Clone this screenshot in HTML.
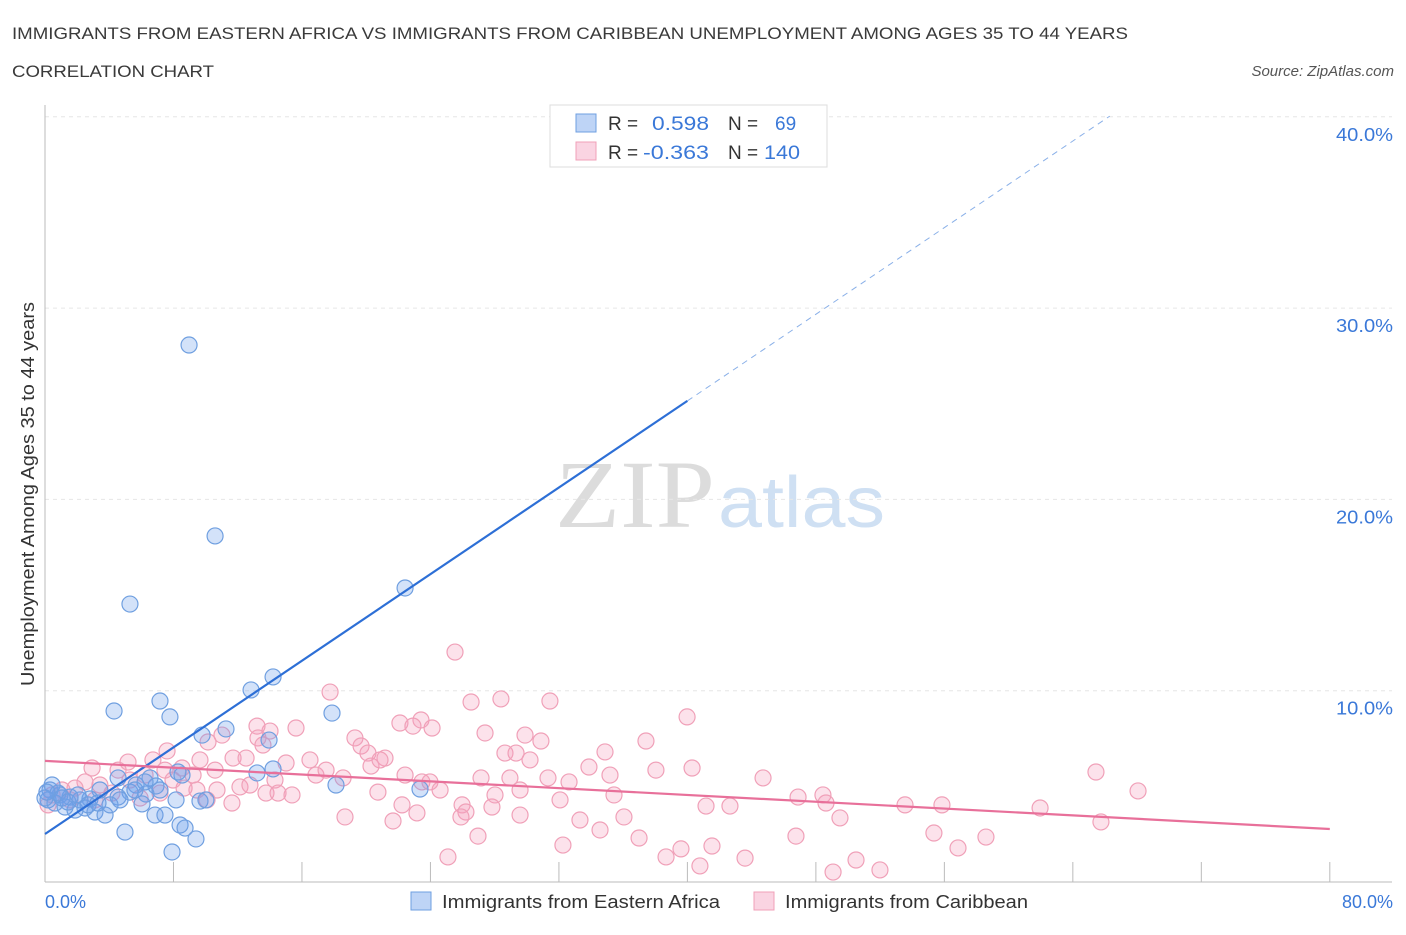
<!DOCTYPE html>
<html><head><meta charset="utf-8"><style>
body{margin:0;background:#fff;width:1406px;height:930px;overflow:hidden;font-family:"Liberation Sans",sans-serif;}
svg text{font-family:"Liberation Sans",sans-serif;}
</style></head><body>
<svg id="chart" width="1406" height="930" xmlns="http://www.w3.org/2000/svg">
<text x="12" y="39" font-size="17" fill="#3a3a3a" textLength="1116" lengthAdjust="spacingAndGlyphs">IMMIGRANTS FROM EASTERN AFRICA VS IMMIGRANTS FROM CARIBBEAN UNEMPLOYMENT AMONG AGES 35 TO 44 YEARS</text>
<text x="12" y="77" font-size="17" fill="#3a3a3a" textLength="202" lengthAdjust="spacingAndGlyphs">CORRELATION CHART</text>
<text x="1394" y="76" font-size="15" fill="#555" font-style="italic" text-anchor="end">Source: ZipAtlas.com</text>
<g>
<text x="555" y="527" font-size="96" fill="#dcdcdc" textLength="160" lengthAdjust="spacingAndGlyphs" style="font-family:'Liberation Serif',serif">ZIP</text>
<text x="718" y="527" font-size="72" fill="#cfe0f3" textLength="167" lengthAdjust="spacingAndGlyphs">atlas</text>
</g>
<g id="grid"></g>
<g id="axes"></g>
<g id="pts"></g>
<g id="trends"></g>
<text transform="translate(34,494) rotate(-90)" font-size="18" fill="#333" text-anchor="middle" textLength="384" lengthAdjust="spacingAndGlyphs">Unemployment Among Ages 35 to 44 years</text>
<g>
<rect x="550" y="105" width="277" height="62" fill="#fff" stroke="#ddd"/>
<rect x="576" y="114" width="20" height="18" fill="rgba(110,160,235,0.45)" stroke="#6f9fe0"/>
<rect x="576" y="142" width="20" height="18" fill="rgba(245,160,190,0.45)" stroke="#f0a0b8"/>
<text x="608" y="130" font-size="19" fill="#333">R =</text>
<text x="652" y="130" font-size="19" fill="#3a78d8" textLength="57" lengthAdjust="spacingAndGlyphs">0.598</text>
<text x="728" y="130" font-size="19" fill="#333">N =</text>
<text x="775" y="130" font-size="19" fill="#3a78d8">69</text>
<text x="608" y="159" font-size="19" fill="#333">R =</text>
<text x="643" y="159" font-size="19" fill="#3a78d8" textLength="66" lengthAdjust="spacingAndGlyphs">-0.363</text>
<text x="728" y="159" font-size="19" fill="#333">N =</text>
<text x="764" y="159" font-size="19" fill="#3a78d8" textLength="36" lengthAdjust="spacingAndGlyphs">140</text>
</g>
<g>
<rect x="411" y="892" width="20" height="18" fill="rgba(110,160,235,0.45)" stroke="#6f9fe0"/>
<text x="442" y="908" font-size="18" fill="#333" textLength="278" lengthAdjust="spacingAndGlyphs">Immigrants from Eastern Africa</text>
<rect x="754" y="892" width="20" height="18" fill="rgba(245,160,190,0.45)" stroke="#f0a0b8"/>
<text x="785" y="908" font-size="18" fill="#333" textLength="243" lengthAdjust="spacingAndGlyphs">Immigrants from Caribbean</text>
</g>
</svg>
<script>
const blueX=[8.97,10.59,5.29,22.42,14.20,12.83,7.16,4.30,7.78,17.87,11.27,9.78,13.95,8.53,13.20,14.20,4.55,6.54,8.28,5.67,6.91,3.42,5.29,6.29,4.55,6.04,8.16,9.65,10.02,18.12,23.35,2.80,2.18,1.56,0.93,0.31,0.19,0.62,1.25,1.87,2.49,3.11,3.74,4.05,4.98,6.85,7.47,8.41,8.72,7.91,9.40,1.06,0.44,0.81,1.43,2.05,2.68,3.30,4.67,5.60,6.23,7.16,0.0,0.12];
const blueY=[28.07,18.09,14.53,15.37,10.72,10.04,9.46,8.94,8.63,8.83,8.00,7.68,7.42,5.59,5.70,5.91,5.44,5.44,5.75,5.07,5.02,4.81,4.70,4.60,4.44,4.08,4.29,4.23,4.29,5.07,4.86,4.34,4.29,4.44,4.55,4.81,4.29,4.13,3.92,3.76,3.87,3.66,3.50,4.03,2.61,3.50,3.50,2.98,2.82,1.57,2.25,4.39,5.07,4.65,4.18,4.55,4.03,4.13,4.29,4.81,5.23,4.81,4.39,4.70];
const pinkX=[25.53,28.39,31.44,17.75,26.53,39.98,23.41,22.10,22.91,24.10,15.63,14.01,13.20,27.40,29.89,30.88,37.42,19.30,19.68,20.11,10.15,11.02,13.26,13.57,34.87,28.64,29.33,7.60,6.72,5.17,2.93,8.53,11.71,12.52,15.01,20.30,21.17,22.42,23.97,35.18,38.04,40.29,33.87,44.71,65.44,68.06,31.32,32.63,28.95,27.15,16.87,17.50,18.56,14.32,9.46,10.71,12.14,13.76,14.51,15.38,20.73,22.23,23.47,28.02,29.58,35.43,41.16,42.65,46.89,48.44,48.63,53.55,55.85,61.96,25.97,27.83,26.21,18.68,21.67,23.16,25.90,29.58,33.31,36.05,36.99,26.96,49.50,55.35,58.59,65.75,46.76,56.85,32.25,25.09,38.67,39.60,41.53,40.78,43.59,50.50,49.07,51.99,11.64,10.09,8.66,7.16,5.92,4.17,3.42,2.49,1.87,1.06,0.44,0.19,4.55,6.23,7.97,9.22,10.59,1.56,3.11,5.29,7.47,9.65,12.76,16.50,34.56,30.20,24.60,32.07,20.86];
const pinkY=[12.02,9.57,9.46,9.93,9.41,8.63,8.47,8.31,8.15,8.05,8.05,7.89,8.15,7.79,7.68,7.37,7.37,7.53,7.11,6.74,7.32,7.68,7.53,7.16,6.80,6.74,6.74,6.85,6.38,6.27,5.96,5.96,6.48,6.48,6.22,6.06,6.48,5.59,5.23,5.59,5.85,5.96,6.01,5.44,5.75,4.76,5.44,5.23,5.44,5.44,5.59,5.85,5.44,5.33,4.81,4.81,4.97,4.65,4.65,4.55,4.70,4.03,5.23,4.55,4.81,4.55,3.97,3.97,4.44,4.55,4.13,4.03,4.03,3.87,4.03,3.92,3.66,3.40,3.19,3.61,3.40,3.50,3.24,3.40,2.30,2.40,3.35,2.56,2.35,3.14,2.40,1.78,1.93,1.31,1.31,1.73,1.88,0.84,1.25,1.15,0.52,0.63,4.13,4.29,4.91,4.65,4.39,4.65,5.07,5.23,4.91,4.81,4.55,4.03,5.85,5.59,5.33,5.59,5.85,4.29,4.29,5.33,5.85,6.38,5.07,6.38,2.72,6.38,4.81,4.29,6.38];
const yTicks=[10,20,30,40];
const yTickLabels=["10.0%","20.0%","30.0%","40.0%"];
const xTicks=[0,8,16,24,32,40,48,56,64,72,80];
const blueTrend=[2.51,0.566];   // intercept, slope
const blueSolidEnd=40.0, blueDashEnd=66.3;
const pinkTrend=[6.33,-0.0445];

const NS="http://www.w3.org/2000/svg";
const X=v=>45+v*16.06, Y=v=>882-v*19.13;
function mk(tag,attrs,parent){const e=document.createElementNS(NS,tag);for(const k in attrs)e.setAttribute(k,attrs[k]);parent.appendChild(e);return e;}
const grid=document.getElementById('grid'),axes=document.getElementById('axes'),pts=document.getElementById('pts'),tr=document.getElementById('trends');
yTicks.forEach((t,i)=>{
  const l=mk('line',{x1:45,x2:1392,y1:Y(t),y2:Y(t),stroke:'#e6e6e6','stroke-dasharray':'4,4'},grid);
  
  
  const tx=mk('text',{x:1393,y:Y(t)+24,'font-size':18,fill:'#3a78d8','text-anchor':'end',textLength:57,lengthAdjust:'spacingAndGlyphs'},axes);
  tx.textContent=yTickLabels[i];
  
  
});
const ya=mk('line',{x1:45,x2:45,y1:105,y2:882,stroke:'#bbb'},axes);


const xa=mk('line',{x1:45,x2:1392,y1:882,y2:882,stroke:'#bbb'},axes);


xTicks.forEach(t=>{
  const l=mk('line',{x1:X(t),x2:X(t),y1:862,y2:882,stroke:'#bbb'},axes);
  
  
});
const xl0=mk('text',{x:45,y:908,'font-size':18,fill:'#3a78d8'},axes);xl0.textContent='0.0%';


const xl1=mk('text',{x:1393,y:908,'font-size':18,fill:'#3a78d8','text-anchor':'end'},axes);xl1.textContent='80.0%';


pinkX.forEach((v,i)=>{
  const c=mk('circle',{cx:X(v),cy:Y(pinkY[i]),r:8,fill:'rgba(245,160,190,0.3)',stroke:'#f0a0b8','stroke-width':1.2},pts);
  
  
});
blueX.forEach((v,i)=>{
  const c=mk('circle',{cx:X(v),cy:Y(blueY[i]),r:8,fill:'rgba(110,160,235,0.3)',stroke:'#6f9fe0','stroke-width':1.2},pts);
  
  
});
const bf=x=>blueTrend[0]+blueTrend[1]*x, pf=x=>pinkTrend[0]+pinkTrend[1]*x;
const b1=mk('line',{x1:X(0),y1:Y(bf(0)),x2:X(blueSolidEnd),y2:Y(bf(blueSolidEnd)),stroke:'#2d6fd6','stroke-width':2.2},tr);


const b2=mk('line',{x1:X(blueSolidEnd),y1:Y(bf(blueSolidEnd)),x2:X(blueDashEnd),y2:Y(bf(blueDashEnd)),stroke:'#8ab0e8','stroke-width':1,'stroke-dasharray':'6,5'},tr);


const p1=mk('line',{x1:X(0),y1:Y(pf(0)),x2:X(80),y2:Y(pf(80)),stroke:'#e8709a','stroke-width':2.2},tr);


</script>
</body></html>
